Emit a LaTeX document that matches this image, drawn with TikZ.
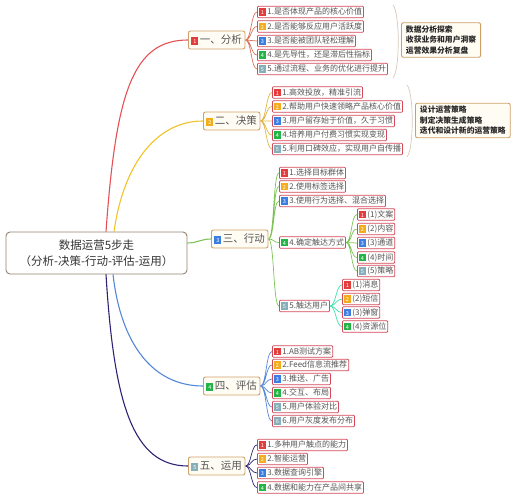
\documentclass[tikz,border=0pt]{standalone}
\usepackage{fontspec}
\setmainfont{Noto Sans CJK SC}
\usepackage{xcolor}
\usepackage{tikz}
\usetikzlibrary{positioning, calc}

\definecolor{itemred}{RGB}{212,72,88}
\definecolor{steptan}{RGB}{205,160,105}
\definecolor{stepfill}{RGB}{255,252,244}
\definecolor{rootedge}{RGB}{150,130,110}
\definecolor{txtgray}{RGB}{85,85,85}
\definecolor{bred}{RGB}{226,60,60}
\definecolor{borange}{RGB}{242,172,30}
\definecolor{bblue}{RGB}{60,125,225}
\definecolor{bgreen}{RGB}{35,180,70}
\definecolor{bgray}{RGB}{135,175,185}
\definecolor{lred}{RGB}{228,80,85}
\definecolor{lorange}{RGB}{240,195,40}
\definecolor{lgreen}{RGB}{125,195,85}
\definecolor{lblue}{RGB}{85,135,215}
\definecolor{ldark}{RGB}{45,35,115}
\definecolor{bracegray}{RGB}{215,200,185}

\newcommand{\badge}[2]{{\setlength{\fboxsep}{0pt}\colorbox{#1}{\makebox[7pt]{\rule[-1pt]{0pt}{7.5pt}\color{white}\fontsize{5.5}{5.5}\selectfont #2}}}\hspace{1.5pt}}

\begin{document}
\begin{tikzpicture}[x=1pt, y=-1pt,
  rootbox/.style={draw=rootedge, fill=white, line width=0.9pt, rounded corners=4pt,
    minimum width=181pt, minimum height=42pt, align=center,
    font=\fontsize{11.5}{16}\selectfont, text=black!80},
  stepbox/.style={draw=steptan, fill=stepfill, line width=0.9pt, rounded corners=2pt,
    anchor=west, inner xsep=3pt, minimum height=18pt,
    font=\fontsize{10.5}{12}\selectfont, text=txtgray},
  itembox/.style={draw=itemred, fill=white, line width=0.8pt, rounded corners=1pt,
    anchor=west, inner xsep=1.5pt, inner ysep=0pt, minimum height=11.5pt,
    font=\fontsize{8}{9}\selectfont, text=txtgray},
  notebox/.style={draw=steptan, fill=stepfill, line width=0.9pt, rounded corners=2pt,
    anchor=west, align=left, inner xsep=4.5pt, inner ysep=3pt,
    font=\fontsize{7.8}{10.5}\selectfont\bfseries, text=black!85},
  branch/.style={line width=1.1pt},
  twig/.style={line width=0.7pt, to path={.. controls +(6,0) and +(-6,0) .. (\tikztotarget)}},
  brace/.style={draw=bracegray, line width=0.7pt}]
  \useasboundingbox (0,0) rectangle (516,500);

  % Root
  \node[rootbox] (root) at (96.5,253) {数据运营5步走\\（分析-决策-行动-评估-运用）};

  % Steps
  \node[stepbox] (s1) at (188,40) {\badge{bred}{1}一、分析};
  \node[stepbox] (s2) at (203,121) {\badge{borange}{2}二、决策};
  \node[stepbox] (s3) at (211,239) {\badge{bblue}{3}三、行动};
  \node[stepbox] (s4) at (203,386) {\badge{bgreen}{4}四、评估};
  \node[stepbox] (s5) at (188,466) {\badge{bgray}{5}五、运用};

  % Root to steps
  \draw[branch, lred] ([xshift=9.5pt]root.north) .. controls +(10,-140) and +(-55,0) .. (s1.west);
  \draw[branch, lorange] ([xshift=17.5pt]root.north) .. controls +(10,-70) and +(-45,0) .. (s2.west);
  \draw[branch, lgreen] ([yshift=10pt]root.east) .. controls +(10,0) and +(-10,0) .. (s3.west);
  \draw[branch, lblue] ([xshift=16.5pt]root.south) .. controls +(8,70) and +(-50,0) .. (s4.west);
  \draw[branch, ldark] ([xshift=9.5pt]root.south) .. controls +(8,130) and +(-55,0) .. (s5.west);

  % Step 1: analysis
  \node[itembox] (a1) at (257,12) {\badge{bred}{1}1.是否体现产品的核心价值};
  \node[itembox] (a2) at (257,26.5) {\badge{borange}{2}2.是否能够反应用户活跃度};
  \node[itembox] (a3) at (257,41) {\badge{bblue}{3}3.是否能被团队轻松理解};
  \node[itembox] (a4) at (257,55) {\badge{bgreen}{4}4.是先导性，还是滞后性指标};
  \node[itembox] (a5) at (257,69) {\badge{bgray}{5}5.通过流程、业务的优化进行提升};
  \draw[twig, lred!55!steptan] (s1.east) to (a1.west) (s1.east) to (a2.west)
    (s1.east) to (a3.west) (s1.east) to (a4.west) (s1.east) to (a5.west);
  \coordinate (br1t) at (393,5);
  \coordinate (br1b) at (393,78);
  \draw[brace] (br1t) .. controls +(7,8) and +(7,-8) .. (br1b);
  \node[notebox] (n1) at (401,40) {数据分析探索\\收获业务和用户洞察\\运营效果分析复盘};

  % Step 2: decision
  \node[itembox] (b1) at (272,92.5) {\badge{bred}{1}1.高效投放，精准引流};
  \node[itembox] (b2) at (272,106.5) {\badge{borange}{2}2.帮助用户快速领略产品核心价值};
  \node[itembox] (b3) at (272,121) {\badge{bblue}{3}3.用户留存始于价值，久于习惯};
  \node[itembox] (b4) at (272,135) {\badge{bgreen}{4}4.培养用户付费习惯实现变现};
  \node[itembox] (b5) at (272,149) {\badge{bgray}{5}5.利用口碑效应，实现用户自传播};
  \draw[twig, lorange!60!steptan] (s2.east) to (b1.west) (s2.east) to (b2.west)
    (s2.east) to (b3.west) (s2.east) to (b4.west) (s2.east) to (b5.west);
  \coordinate (br2t) at (407,85);
  \coordinate (br2b) at (407,157);
  \draw[brace] (br2t) .. controls +(7,8) and +(7,-8) .. (br2b);
  \node[notebox] (n2) at (415,120.5) {设计运营策略\\制定决策生成策略\\迭代和设计新的运营策略};

  % Step 3: action
  \node[itembox] (c1) at (279,173) {\badge{bred}{1}1.选择目标群体};
  \node[itembox] (c2) at (279,186.5) {\badge{borange}{2}2.使用标签选择};
  \node[itembox] (c3) at (279,201) {\badge{bblue}{3}3.使用行为选择、混合选择};
  \node[itembox] (c4) at (279,242.5) {\badge{bgreen}{4}4.确定触达方式};
  \node[itembox] (c5) at (279,306) {\badge{bgray}{5}5.触达用户};
  \draw[twig, lgreen] (s3.east) to (c1.west) (s3.east) to (c2.west)
    (s3.east) to (c3.west) (s3.east) to (c4.west) (s3.east) to (c5.west);

  \node[itembox] (c41) at (357,214.5) {\badge{bred}{1}(1)文案};
  \node[itembox] (c42) at (357,229) {\badge{borange}{2}(2)内容};
  \node[itembox] (c43) at (357,243) {\badge{bblue}{3}(3)通道};
  \node[itembox] (c44) at (357,257.5) {\badge{bgreen}{4}(4)时间};
  \node[itembox] (c45) at (357,271) {\badge{bgray}{5}(5)策略};
  \draw[twig, lgreen] (c4.east) to (c41.west) (c4.east) to (c42.west)
    (c4.east) to (c43.west) (c4.east) to (c44.west) (c4.east) to (c45.west);

  \node[itembox] (c51) at (342,285) {\badge{bred}{1}(1)消息};
  \node[itembox] (c52) at (342,299) {\badge{borange}{2}(2)短信};
  \node[itembox] (c53) at (342,312.5) {\badge{bblue}{3}(3)弹窗};
  \node[itembox] (c54) at (342,326.5) {\badge{bgreen}{4}(4)资源位};
  \draw[twig, lgreen!50!cyan] (c5.east) to (c51.west) (c5.east) to (c52.west)
    (c5.east) to (c53.west) (c5.east) to (c54.west);

  % Step 4: evaluation
  \node[itembox] (d1) at (272,351.5) {\badge{bred}{1}1.AB测试方案};
  \node[itembox] (d2) at (272,365) {\badge{borange}{2}2.Feed信息流推荐};
  \node[itembox] (d3) at (272,379) {\badge{bblue}{3}3.推送、广告};
  \node[itembox] (d4) at (272,393) {\badge{bgreen}{4}4.交互、布局};
  \node[itembox] (d5) at (272,407) {\badge{bgray}{5}5.用户体验对比};
  \node[itembox] (d6) at (272,421) {\badge{bgray}{6}6.用户灰度发布分布};
  \draw[twig, lblue] (s4.east) to (d1.west) (s4.east) to (d2.west) (s4.east) to (d3.west)
    (s4.east) to (d4.west) (s4.east) to (d5.west) (s4.east) to (d6.west);

  % Step 5: usage
  \node[itembox] (e1) at (257,445) {\badge{bred}{1}1.多种用户触点的能力};
  \node[itembox] (e2) at (257,459) {\badge{borange}{2}2.智能运营};
  \node[itembox] (e3) at (257,473) {\badge{bblue}{3}3.数据查询引擎};
  \node[itembox] (e4) at (257,487.5) {\badge{bgreen}{4}4.数据和能力在产品间共享};
  \draw[twig, ldark] (s5.east) to (e1.west) (s5.east) to (e2.west)
    (s5.east) to (e3.west) (s5.east) to (e4.west);
\end{tikzpicture}
\end{document}
